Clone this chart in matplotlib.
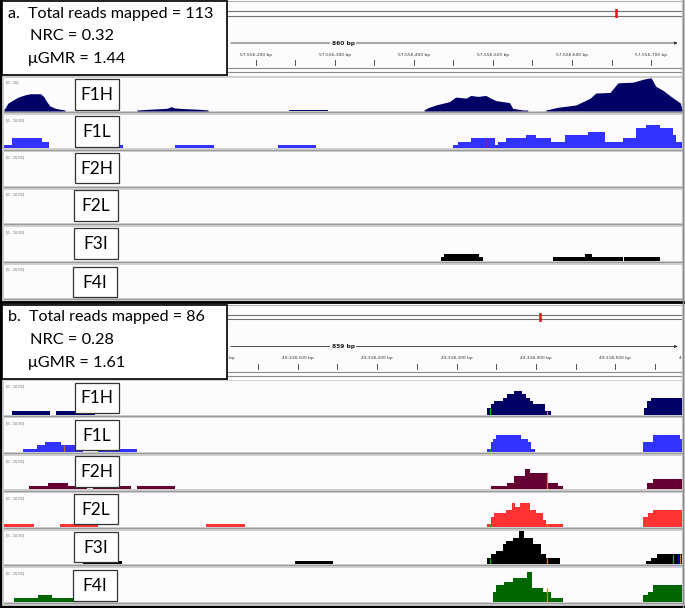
import matplotlib
matplotlib.use('Agg')
import matplotlib.pyplot as plt
from matplotlib.patches import Rectangle
from matplotlib.lines import Line2D

W, H = 685, 608

tracks = ['F1H', 'F1L', 'F2H', 'F2L', 'F3I', 'F4I']
colors = ['#000066', '#3333ff', '#660033', '#ff3333', '#000000', '#006600']

# panel a: window and summary numbers
a_start, a_span, a_width_label = 57555882, 857, '860 bp'
a_chrom_len = 67.35e6
a_text = ['a.  Total reads mapped = 113', 'NRC = 0.32', '\u03bcGMR = 1.44']
a_ranges = [20, 10, 10, 10, 10, 10]

# F1H in panel a is a smooth profile: (bp offset, coverage)
a_f1h = [
    ([0, 1, 5, 12, 18, 27, 33, 46, 50, 54, 58, 65, 69, 77, 77],
     [1.0, 1.6, 4.7, 6.7, 8.3, 9.7, 10.3, 10.3, 8.7, 5.6, 3.0, 1.6, 1.2, 0.6, 0]),
    ([168, 168, 182, 206, 211, 216, 229, 248, 258, 258],
     [0, 0.6, 1.0, 1.6, 2.6, 1.8, 1.4, 1.0, 0.6, 0]),
    ([360, 360, 409, 409], [0, 0.6, 0.6, 0]),
    ([531, 531, 536, 546, 563, 571, 584, 590, 599, 609, 615, 622, 639, 643, 656, 662, 662],
     [0, 0.6, 2.0, 3.6, 5.6, 8.3, 7.7, 9.3, 8.7, 9.3, 7.7, 6.2, 5.0, 1.6, 0.6, 0.6, 0]),
    ([685, 685, 700, 723, 741, 748, 766, 776, 795, 810, 818, 824, 833, 843, 855, 857],
     [0, 0.6, 2.2, 3.6, 7.7, 10.7, 11.1, 16.8, 17.2, 19.2, 19.8, 14.7, 12.3, 8.7, 4.7, 0.6]),
]
# stepped coverage: (bin edges in bp offset, reads)
a_f1l = [([0, 10, 48, 57], [1, 3, 2]), ([100, 151], [1]), ([216, 265], [1]), ([346, 394], [1]),
         ([568, 574, 590, 620, 624, 634, 660, 672, 691, 709, 738, 760, 782, 799, 812, 829, 846, 850, 857],
          [1, 2, 3, 1, 2, 3, 4, 3, 2, 4, 5, 2, 3, 6, 7, 6, 4, 2])]
a_f2h = []
a_f2l = []
a_f3i = [([552, 556, 601, 605], [1, 2, 1]), ([694, 734, 743, 782], [1, 2, 1]), ([784, 829], [1])]
a_f4i = []
a_snv = [('F1L', 610, 3, '#ee0000'), ('F1H', 650, 0.8, '#ee0000')]

# panel b
b_start, b_span, b_width_label = 49317730, 854, '859 bp'
b_chrom_len = 71.79e6
b_text = ['b.  Total reads mapped = 86', 'NRC = 0.28', '\u03bcGMR = 1.61']
b_ranges = [10, 10, 10, 10, 10, 10]

b_f1h = [([10, 58], [1]), ([66, 115], [1]),
         ([609, 613, 617, 629, 634, 642, 653, 658, 662, 666, 682, 689], [2, 3, 4, 5, 6, 7, 6, 5, 4, 3, 1]),
         ([806, 810, 815, 854], [2, 4, 5])]
b_f1l = [([24, 42, 52, 72, 100], [1, 2, 3, 2]), ([118, 168], [1]),
         ([609, 613, 616, 620, 651, 660, 664, 669], [1, 3, 4, 5, 4, 3, 1]),
         ([805, 817, 851, 854], [3, 5, 4])]
b_f2h = [([32, 55, 80, 104], [1, 2, 1]), ([112, 160], [1]), ([168, 216], [1]),
         ([613, 634, 642, 656, 663, 685, 698, 704], [1, 2, 4, 6, 5, 2, 1]),
         ([810, 817, 854], [2, 3])]
b_f2l = [([0, 38], [1]), ([70, 119], [1]), ([254, 303], [1]),
         ([609, 613, 617, 632, 640, 644, 650, 663, 670, 679, 683, 704], [1, 3, 4, 5, 7, 6, 7, 5, 4, 2, 1]),
         ([805, 811, 817, 854], [3, 4, 5])]
b_f3i = [([100, 149], [1]), ([367, 415], [1]),
         ([609, 613, 620, 628, 632, 641, 649, 655, 666, 677, 683, 700], [2, 3, 4, 6, 7, 8, 10, 8, 6, 3, 2]),
         ([809, 815, 822, 854], [1, 2, 3])]
b_f4i = [([12, 43, 61, 91], [1, 2, 1]),
         ([616, 620, 630, 641, 659, 665, 679, 689, 704], [3, 5, 6, 7, 9, 4, 3, 1]),
         ([805, 811, 817, 854], [2, 3, 5])]
b_snv = [('F1H', 612, 2, '#00bb00'), ('F1H', 684, 1, '#dd8800'), ('F1L', 76, 2, '#cc6633'),
         ('F1L', 612, 1, '#00bb00'), ('F2H', 684, 5, '#dd8800'), ('F2L', 612, 1, '#00bb00'),
         ('F2L', 684, 1, '#dd8800'), ('F3I', 612, 2, '#00bb00'), ('F3I', 684, 2, '#dd8800'),
         ('F3I', 843, 3, '#00bb00'), ('F3I', 849, 3, '#0000cc'), ('F3I', 851, 3, '#dd8800'),
         ('F4I', 684, 4, '#dd8800')]

box_dx = [75, 75, 75, 73.5, 73.5, 72.5]
box_dy = [1.5, 1.5, 0.5, 0.5, 1.0, 2.0]
BG = '#fdfbfe'
LABEL_FONT = ['Lato', 'DejaVu Sans']

fig = plt.figure(figsize=(W / 100, H / 100), dpi=100, facecolor='#cfcfcf')


def px_rect(x0, y0, x1, y1):
    return [x0 / W, 1 - y1 / H, (x1 - x0) / W, (y1 - y0) / H]


def fig_line(x0, y0, x1, y1, **kw):
    fig.add_artist(Line2D([x0 / W, x1 / W], [1 - y0 / H, 1 - y1 / H],
                          transform=fig.transFigure, **kw))


def draw_ruler(top, start, span, width_label, chrom_len):
    # the ruler is only visible right of the summary box
    left_bp = start + (228 - 4) * span / 678
    ax = fig.add_axes(px_rect(228, top, 682, top + 76))
    ax.set_xlim(left_bp, start + span)
    ax.set_ylim(76, 0)
    ax.axis('off')
    ax.add_patch(Rectangle((0, 0), 1, 1, transform=ax.transAxes, color=BG, zorder=0))
    ax.axhline(1, color='#b0b0b0', lw=0.8)
    ax.axhline(68, color='#8c8c8c', lw=0.8)
    ax.axhline(72, color='#8c8c8c', lw=0.8)
    # scale bar
    ax.annotate('', xy=(start + span - 2, 43), xytext=(left_bp, 43),
                arrowprops=dict(arrowstyle='-|>', color='#333333', lw=0.6,
                                mutation_scale=4))
    ax.text(start + span / 2, 43, width_label, fontsize=4.3, fontweight='bold',
            ha='center', va='center', color='#222222',
            bbox=dict(facecolor=BG, edgecolor='none', pad=1.2))
    first = (start // 50 + 1) * 50
    ticks = list(range(first, start + span + 60, 50))
    for t in ticks:
        if left_bp < t <= start + span:
            ax.plot([t, t], [60, 65], color='#333333', lw=0.6)
        if t % 100 == 0 and t > left_bp - 25:
            ax.text(t, 55, f'{t:,} bp', fontsize=3.2, ha='center', va='center',
                    color='#333333', clip_on=True)
    # chromosome ideogram
    ide = fig.add_axes(px_rect(228, top + 9, 682, top + 18))
    ide.set_xlim(0, chrom_len)
    ide.set_ylim(0, 1)
    ide.axis('off')
    ide.axhline(0.25, color='#707070', lw=0.8)
    ide.axhline(0.75, color='#707070', lw=0.8)
    ide.axvline(start + span / 2, ymin=0.05, ymax=0.95, color='#ee1111', lw=1.8)


def draw_panel(top, start, span, width_label, chrom_len, text, ranges, cov, smooth, snv):
    draw_ruler(top, start, span, width_label, chrom_len)
    track_top = top + 77.5
    for i, name in enumerate(tracks):
        y0 = track_top + 37.45 * i
        ax = fig.add_axes(px_rect(4, y0, 682, y0 + 33.5))
        ax.set_facecolor(BG)
        ax.set_xlim(0, span)
        ax.set_ylim(0, ranges[i])
        ax.set_xticks([])
        ax.set_yticks([])
        for s in ax.spines.values():
            s.set_visible(False)
        if name in smooth:
            for xs, ys in smooth[name]:
                ax.fill_between(xs, ys, color=colors[i], lw=0)
        for edges, vals in cov[name]:
            ax.stairs(vals, edges, fill=True, color=colors[i], baseline=0)
        for tname, pos, h, c in snv:
            if tname == name:
                ax.vlines(pos, 0, h, color=c, lw=0.9)
        rng = '20' if ranges[i] == 20 else '10.00'
        ax.text(2 / 678, 1 - 3 / 33.5, f'[0 - {rng}]', transform=ax.transAxes,
                fontsize=2.4, color='#666666', va='top', ha='left')
        # separators
        fig_line(4, y0 + 34.6, 682, y0 + 34.6, color='#9a9a9a', lw=0.8)
        # label box
        bx, by = box_dx[i], y0 + box_dy[i]
        fig.add_artist(Rectangle((bx / W, 1 - (by + 30.5) / H), 44 / W, 30.5 / H,
                                 transform=fig.transFigure, facecolor='white',
                                 edgecolor='#333333', lw=0.9, zorder=5))
        fig.text((bx + 22) / W, 1 - (by + 15.8) / H, name, fontsize=12.5,
                 family=LABEL_FONT, ha='center', va='center', zorder=6)
    # summary box
    fig.add_artist(Rectangle((1.5 / W, 1 - (top + 75) / H), 226 / W, 74 / H,
                             transform=fig.transFigure, facecolor='white',
                             edgecolor='black', lw=1.2, zorder=5))
    fig.text(8 / W, 1 - (top + 14) / H, text[0], fontsize=11.6, family=LABEL_FONT,
             va='center', ha='left', zorder=6)
    fig.text(30.5 / W, 1 - (top + 36) / H, text[1], fontsize=11.8, family=LABEL_FONT,
             va='center', ha='left', zorder=6)
    fig.text(28 / W, 1 - (top + 59.5) / H, text[2], fontsize=11.8, family=LABEL_FONT,
             va='center', ha='left', zorder=6)


draw_panel(0, a_start, a_span, a_width_label, a_chrom_len, a_text, a_ranges,
           dict(zip(tracks, [[], a_f1l, a_f2h, a_f2l, a_f3i, a_f4i])),
           {'F1H': a_f1h}, a_snv)
draw_panel(303.5, b_start, b_span, b_width_label, b_chrom_len, b_text, b_ranges,
           dict(zip(tracks, [b_f1h, b_f1l, b_f2h, b_f2l, b_f3i, b_f4i])),
           {}, b_snv)

# outer frame
fig_line(1, 0, 1, H, color='black', lw=1.6)
fig_line(0, 302.5, W, 302.5, color='black', lw=2.0)
fig_line(0, 606.8, W, 606.8, color='black', lw=1.6)
fig_line(682.5, 0, 682.5, H, color='#8a8a8a', lw=1.0)

fig.savefig('out.png', dpi=100, facecolor=fig.get_facecolor())
